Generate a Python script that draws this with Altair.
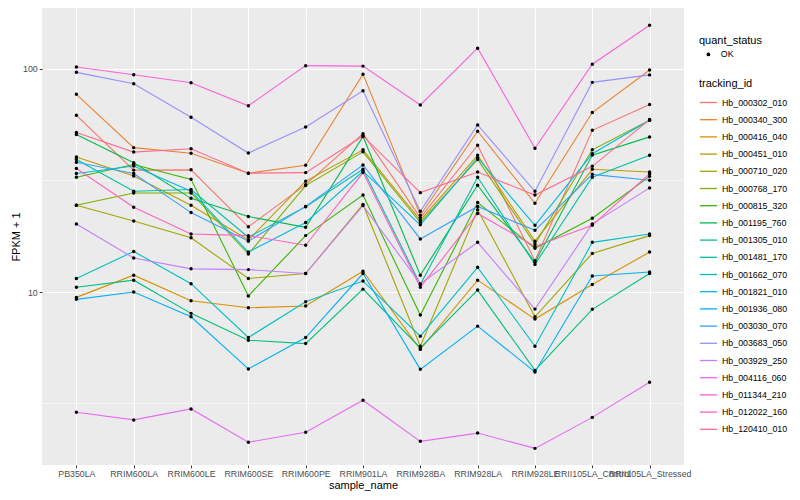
import altair as alt
import pandas as pd

samples = ["PB350LA", "RRIM600LA", "RRIM600LE", "RRIM600SE", "RRIM600PE", "RRIM901LA",
           "RRIM928BA", "RRIM928LA", "RRIM928LE", "RRII105LA_Control", "RRII105LA_Stressed"]

tracking_ids = ["Hb_000302_010", "Hb_000340_300", "Hb_000416_040", "Hb_000451_010", "Hb_000710_020",
                "Hb_000768_170", "Hb_000815_320", "Hb_001195_760", "Hb_001305_010", "Hb_001481_170",
                "Hb_001662_070", "Hb_001821_010", "Hb_001936_080", "Hb_003030_070", "Hb_003683_050",
                "Hb_003929_250", "Hb_004116_060", "Hb_011344_210", "Hb_012022_160", "Hb_120410_010"]

colors = ["#F8766D", "#EA8331", "#D89000", "#C09B00", "#A3A500", "#7CAE00", "#39B600", "#00BB4E",
          "#00BF7D", "#00C1A3", "#00BFC4", "#00BAE0", "#00B0F6", "#35A2FF", "#9590FF", "#C77CFF",
          "#E76BF3", "#FA62DB", "#FF62BC", "#FF6C91"]

hb_000302_010 = [62, 35.2, 35.3, 19.6, 30.3, 51.3, 21.5, 45.5, 13.8, 53.1, 69.3]
hb_000340_300 = [77, 44.4, 41.9, 34.1, 37.0, 94.8, 22.1, 52.6, 25.0, 63.8, 98.9]
hb_000416_040 = [9.46, 11.9, 9.14, 8.50, 8.65, 12.4, 5.53, 11.3, 7.56, 10.8, 15.1]
hb_000451_010 = [40.3, 33.1, 24.5, 17.1, 31.4, 43.4, 21.0, 41.0, 16.9, 35.5, 34.5]
hb_000710_020 = [24.5, 20.8, 17.5, 11.5, 12.1, 24.7, 5.71, 23.4, 7.74, 14.9, 17.9]
hb_000768_170 = [24.5, 27.8, 27.8, 14.8, 30.0, 42.5, 20.5, 39.3, 16.4, 43.4, 58.9]
hb_000815_320 = [32.7, 37.3, 32.0, 9.6, 17.9, 27.2, 7.88, 25.2, 15.7, 21.4, 33.0]
hb_001195_760 = [50.9, 38.0, 26.3, 21.8, 19.5, 49.8, 11.9, 30.1, 13.6, 41.1, 49.6]
hb_001305_010 = [10.5, 11.3, 8.02, 6.08, 5.87, 10.3, 5.61, 10.2, 4.45, 8.36, 12.1]
hb_001481_170 = [39.3, 28.3, 28.8, 17.6, 24.1, 35.5, 10.8, 32.7, 13.3, 32.7, 41.0]
hb_001662_070 = [11.5, 15.2, 10.9, 6.25, 9.04, 11.2, 6.34, 12.9, 5.71, 16.7, 18.2]
hb_001821_010 = [34.0, 36.7, 28.3, 15.1, 20.5, 34.8, 20.0, 40.0, 19.9, 41.7, 58.9]
hb_001936_080 = [9.27, 10.0, 7.74, 4.52, 6.25, 12.1, 4.50, 7.03, 4.38, 11.8, 12.3]
hb_003030_070 = [38.2, 34.0, 22.7, 16.9, 24.2, 37.1, 17.3, 24.2, 18.9, 33.7, 31.7]
hb_003683_050 = [96.6, 85.9, 60.8, 42.0, 54.9, 79.8, 23.0, 56.1, 28.3, 87.1, 94.1]
hb_003929_250 = [20.2, 14.2, 12.7, 12.6, 12.1, 24.4, 10.9, 16.7, 8.38, 20.2, 29.3]
hb_004116_060 = [2.89, 2.67, 2.99, 2.12, 2.35, 3.27, 2.14, 2.33, 1.99, 2.74, 3.94]
hb_011344_210 = [102, 94.2, 86.7, 68.4, 103.5, 103, 69.0, 124, 44.1, 105, 157]
hb_012022_160 = [35.8, 24.0, 18.2, 17.9, 16.2, 34.3, 10.5, 22.5, 16.0, 19.9, 33.9]
hb_120410_010 = [51.9, 42.4, 43.9, 34.1, 34.3, 50.1, 27.9, 34.5, 27.2, 36.6, 59.3]

series = [hb_000302_010, hb_000340_300, hb_000416_040, hb_000451_010, hb_000710_020,
          hb_000768_170, hb_000815_320, hb_001195_760, hb_001305_010, hb_001481_170,
          hb_001662_070, hb_001821_010, hb_001936_080, hb_003030_070, hb_003683_050,
          hb_003929_250, hb_004116_060, hb_011344_210, hb_012022_160, hb_120410_010]

major_breaks = [10, 100]
minor_breaks = [3.1623, 31.623]
y_domain = [1.676, 187.7]

rows = []
for tid, vals in zip(tracking_ids, series):
    for s, v in zip(samples, vals):
        rows.append({"tracking_id": tid, "sample_name": s, "fpkm": v, "quant_status": "OK"})
df = pd.DataFrame(rows)
minor_df = pd.DataFrame({"fpkm": minor_breaks})

yscale = alt.Scale(type="log", domain=y_domain, nice=False)
yaxis = alt.Axis(title="FPKM + 1", values=major_breaks, format="d", grid=True,
                 gridColor="white", gridWidth=1.1, tickColor="#333333", tickSize=2.75,
                 domain=False, labelFontSize=8.8, labelColor="#4D4D4D", labelPadding=2,
                 titleFontSize=11, titleColor="black", titleFontWeight="normal",
                 titlePadding=1)
xaxis = alt.Axis(title="sample_name", labelAngle=0, grid=True, gridColor="white",
                 gridWidth=1.1, tickColor="#333333", tickSize=2.75, domain=False,
                 labelFontSize=8.8, labelColor="#4D4D4D", labelPadding=2,
                 titleFontSize=11, titleColor="black", titleFontWeight="normal",
                 titlePadding=1)
xscale = alt.Scale(type="point", padding=0.6)

minor = alt.Chart(minor_df).mark_rule(color="white", strokeWidth=0.55).encode(
    y=alt.Y("fpkm:Q", scale=yscale, axis=yaxis))

lines = alt.Chart(df).mark_line(strokeWidth=1.1).encode(
    x=alt.X("sample_name:N", sort=samples, scale=xscale, axis=xaxis),
    y=alt.Y("fpkm:Q", scale=yscale, axis=yaxis),
    color=alt.Color("tracking_id:N", scale=alt.Scale(domain=tracking_ids, range=colors),
                    legend=alt.Legend(title="tracking_id", orient="none", legendX=657, legendY=70,
                                      symbolType="stroke", symbolSize=289, symbolStrokeWidth=1.3,
                                      labelFontSize=8.8, titleFontSize=11, titleFontWeight="normal",
                                      titleColor="black", labelColor="black", rowPadding=2.2,
                                      titlePadding=4, labelOffset=4, padding=0)),
    detail="tracking_id:N")

points = alt.Chart(df).mark_point(filled=True, color="black", size=12, opacity=1).encode(
    x=alt.X("sample_name:N", sort=samples, scale=xscale, axis=xaxis),
    y=alt.Y("fpkm:Q", scale=yscale, axis=yaxis),
    shape=alt.Shape("quant_status:N", scale=alt.Scale(range=["circle"]),
                    legend=alt.Legend(title="quant_status", orient="none", legendX=657, legendY=27,
                                      symbolFillColor="black", symbolStrokeColor="black",
                                      symbolSize=14, symbolOffset=5, labelFontSize=8.8,
                                      titleFontSize=11, titleFontWeight="normal", titleColor="black",
                                      labelColor="black", titlePadding=4, labelOffset=8, padding=0)))

chart = alt.layer(minor, lines, points).properties(
    width=642, height=457,
    padding={"left": 34, "top": 0, "right": 108, "bottom": 27},
    autosize=alt.AutoSizeParams(type="none"),
).configure(font="Liberation Sans").configure_view(fill="#EBEBEB", stroke=None)

chart.save("out.html", embed_options={"renderer": "svg", "actions": False})
